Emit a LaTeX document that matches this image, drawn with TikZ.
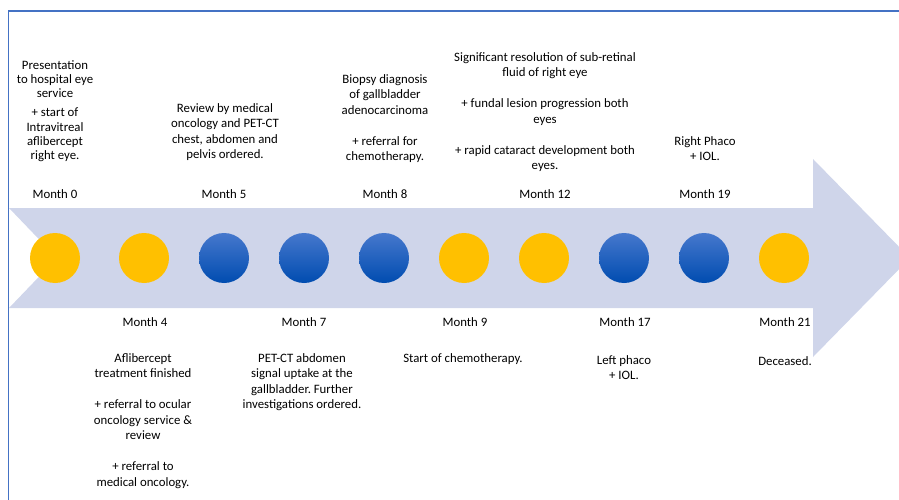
\documentclass[tikz,border=0pt]{standalone}
\usepackage{fontspec}
\setmainfont{Carlito}
\frenchspacing
\definecolor{frameblue}{RGB}{68,114,196}
\definecolor{band}{RGB}{207,213,234}
\definecolor{dotyellow}{RGB}{255,192,0}
\definecolor{dottop}{RGB}{70,120,205}
\definecolor{dotbot}{RGB}{0,76,176}
\begin{document}
\begin{tikzpicture}[x=1pt,y=-1pt,
  note/.style={align=center, inner sep=0pt, anchor=north,
    font=\fontsize{12.8}{15.5}\selectfont, text=black},
  tightnote/.style={note, font=\fontsize{12.8}{14.3}\selectfont},
  dotyel/.style={circle, minimum size=50pt, inner sep=0pt, fill=dotyellow},
  dotblu/.style={circle, minimum size=50pt, inner sep=0pt,
    top color=dottop, bottom color=dotbot},
]
\useasboundingbox (0,0) rectangle (899,500);
\clip (0,0) rectangle (899,500);

% frame
\draw[frameblue, line width=1.5pt] (8.5,520) -- (8.5,11) -- (920,11);

% notched timeline arrow
\fill[band] (9,208) -- (813,208) -- (813,159) -- (910,258) -- (813,357)
  -- (813,308) -- (9,308) -- (57,258) -- cycle;

% milestones
\node[dotyel] (c0) at (55,258) {};
\node[dotyel] (c1) at (144,258) {};
\node[dotblu] (c2) at (224,258) {};
\node[dotblu] (c3) at (304,258) {};
\node[dotblu] (c4) at (384,258) {};
\node[dotyel] (c5) at (464,258) {};
\node[dotyel] (c6) at (544,258) {};
\node[dotblu] (c7) at (624,258) {};
\node[dotblu] (c8) at (704,258) {};
\node[dotyel] (c9) at (784,258) {};

% month labels
\node[note] (m0) at (55,187) {\strut Month 0};
\node[note] (m5) at (224,187) {\strut Month 5};
\node[note] (m8) at (385,187) {\strut Month 8};
\node[note] (m12) at (545,187) {\strut Month 12};
\node[note] (m19) at (705,187) {\strut Month 19};
\node[note] (m4) at (145,315) {\strut Month 4};
\node[note] (m7) at (304,315) {\strut Month 7};
\node[note] (m9) at (465,315) {\strut Month 9};
\node[note] (m17) at (625,315) {\strut Month 17};
\node[note] (m21) at (785,315) {\strut Month 21};

% events above the arrow
\node[tightnote] (e0) at (55,59) {\strut Presentation\\to hospital eye\\service\\[4.7pt]+ start of\\Intravitreal\\aflibercept\\right eye.};
\node[note] (e5) at (225,101) {\strut Review by medical\\oncology and PET-CT\\chest, abdomen and\\pelvis ordered.};
\node[note] (e8) at (385,72) {\strut Biopsy diagnosis\\of gallbladder\\adenocarcinoma\\[15.5pt]+ referral for\\chemotherapy.};
\node[note] (e12) at (545,50) {\strut Significant resolution of sub-retinal\\fluid of right eye\\[15.5pt]+ fundal lesion progression both\\eyes\\[15.5pt]+ rapid cataract development both\\eyes.};
\node[note] (e19) at (705,134) {\strut Right Phaco\\+ IOL.};

% events below the arrow
\node[note] (e4) at (143,351) {\strut Aflibercept\\treatment finished\\[15.5pt]+ referral to ocular\\oncology service \&\\review\\[15.5pt]+ referral to\\medical oncology.};
\node[note] (e7) at (302,351) {\strut PET-CT abdomen\\signal uptake at the\\gallbladder. Further\\investigations ordered.};
\node[note] (e9) at (463,351) {\strut Start of chemotherapy.};
\node[note] (e17) at (624,353) {\strut Left phaco\\+ IOL.};
\node[note] (e21) at (785,354) {\strut Deceased.};
\end{tikzpicture}
\end{document}
